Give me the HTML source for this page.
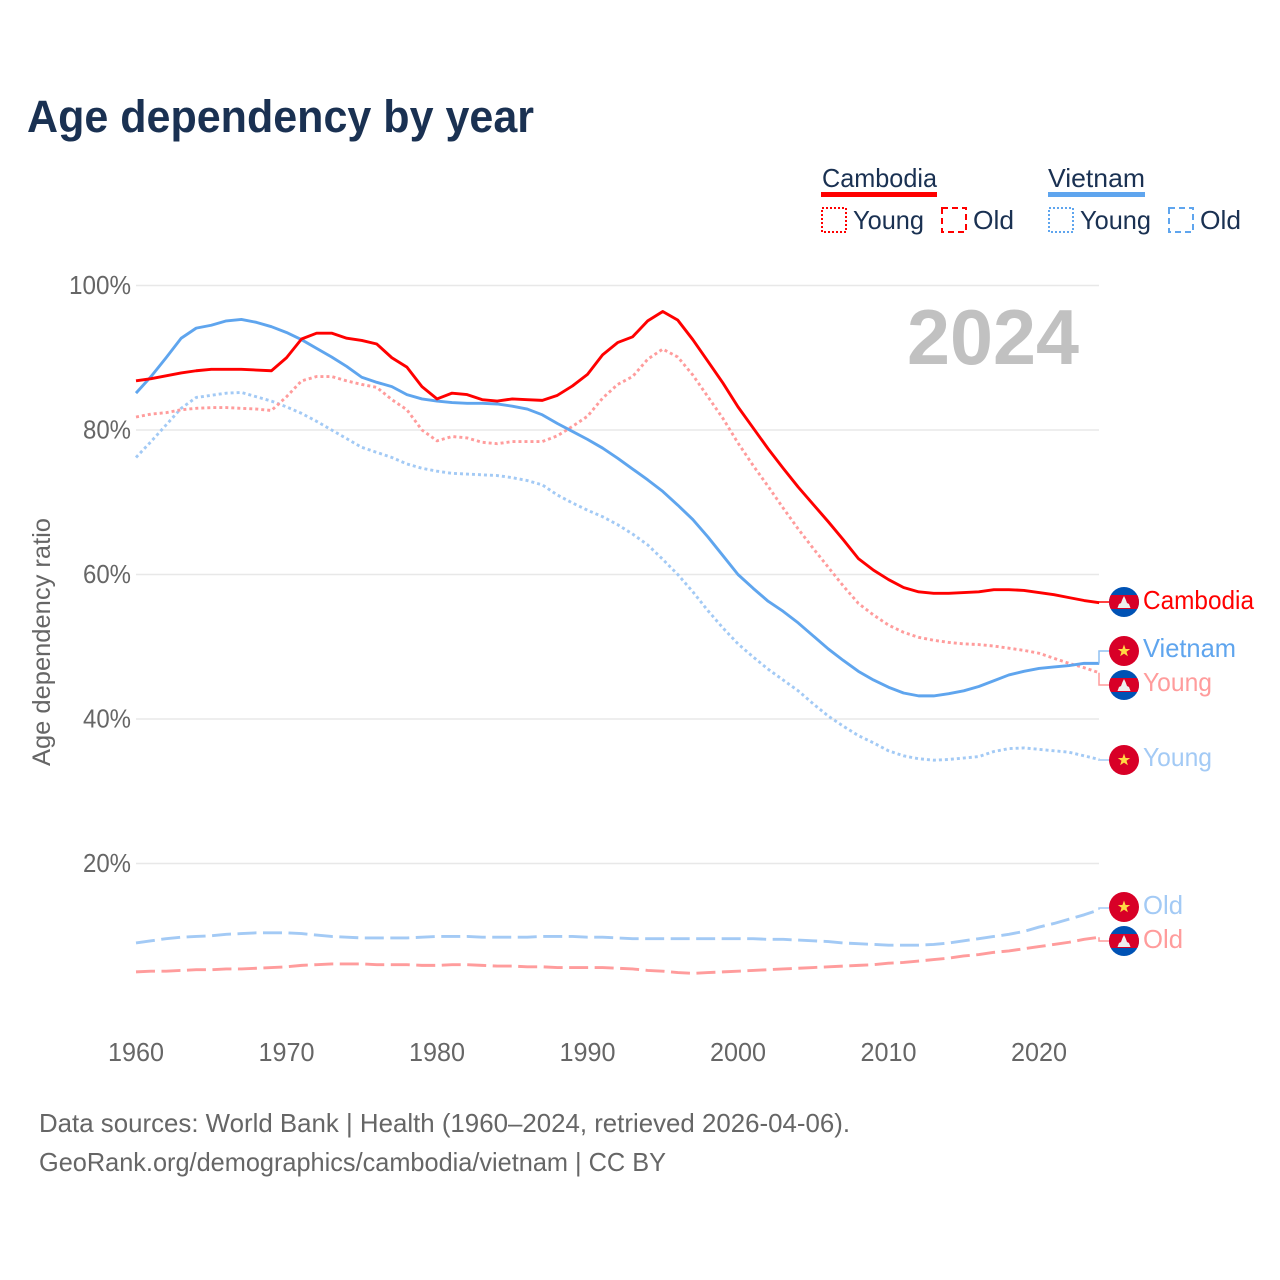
<!DOCTYPE html>
<html lang="en">
<head>
<meta charset="utf-8">
<title>Age dependency by year</title>
<style>
html,body{margin:0;padding:0;background:#fff;}
svg{display:block;font-family:"Liberation Sans",sans-serif;}
</style>
</head>
<body>
<svg id="chart" width="1280" height="1280" viewBox="0 0 1280 1280" xmlns="http://www.w3.org/2000/svg">
  <defs>
    <clipPath id="flag-clip"><circle cx="0" cy="0" r="15"/></clipPath>
    <g id="flag-kh">
      <g clip-path="url(#flag-clip)">
        <rect x="-15" y="-15" width="30" height="30" fill="#0052b4"/>
        <rect x="-15" y="-7" width="30" height="14" fill="#d80027"/>
        <polygon points="-6.5,6 -5,2 -3,1 -1.5,-3 0,-6 1.5,-3 3,1 5,2 6.5,6" fill="#eeeeee"/>
      </g>
    </g>
    <g id="flag-vn">
      <circle r="15" fill="#d80027"/>
      <polygon points="0,-6.5 1.6,-2 6.2,-2 2.5,0.8 3.9,5.3 0,2.6 -3.9,5.3 -2.5,0.8 -6.2,-2 -1.6,-2" fill="#ffda44"/>
    </g>
  </defs>

  <text x="27" y="132" font-size="45" font-weight="700" fill="#1a3152" textLength="507" lengthAdjust="spacingAndGlyphs">Age dependency by year</text>

  <g font-size="26" fill="#1a3152">
    <text x="822" y="187" textLength="115" lengthAdjust="spacingAndGlyphs">Cambodia</text>
    <rect x="821" y="192" width="116" height="5" fill="#ff0000"/>
    <rect x="822" y="208" width="24" height="24" fill="none" stroke="#ff0000" stroke-width="2" stroke-dasharray="2 2"/>
    <text x="853" y="229" textLength="71" lengthAdjust="spacingAndGlyphs">Young</text>
    <rect x="942" y="208" width="24" height="24" fill="none" stroke="#ff0000" stroke-width="2" stroke-dasharray="6 4"/>
    <text x="973" y="229" textLength="41" lengthAdjust="spacingAndGlyphs">Old</text>
    <text x="1048" y="187" textLength="97" lengthAdjust="spacingAndGlyphs">Vietnam</text>
    <rect x="1048" y="192" width="97" height="5" fill="#5fa5ee"/>
    <rect x="1049" y="208" width="24" height="24" fill="none" stroke="#5fa5ee" stroke-width="2" stroke-dasharray="2 2"/>
    <text x="1080" y="229" textLength="71" lengthAdjust="spacingAndGlyphs">Young</text>
    <rect x="1169" y="208" width="24" height="24" fill="none" stroke="#5fa5ee" stroke-width="2" stroke-dasharray="6 4"/>
    <text x="1200" y="229" textLength="41" lengthAdjust="spacingAndGlyphs">Old</text>
  </g>

  <g id="grid"></g>
  <g id="y-ticks"></g>
  <g id="x-ticks"></g>

  <text transform="translate(50,766) rotate(-90)" font-size="25" fill="#666666" textLength="248" lengthAdjust="spacingAndGlyphs">Age dependency ratio</text>

  <text x="907" y="364" font-size="78" font-weight="700" fill="#c1c1c1" textLength="172" lengthAdjust="spacingAndGlyphs">2024</text>

  <g id="series"></g>
  <g id="connectors"></g>

  <g font-size="26">
    <use href="#flag-kh" x="1124" y="602"/>
    <text x="1143" y="609" fill="#ff0000" textLength="111" lengthAdjust="spacingAndGlyphs">Cambodia</text>
    <use href="#flag-vn" x="1124" y="651"/>
    <use href="#flag-kh" x="1124" y="685"/>
    <text x="1143" y="657" fill="#5fa5ee" textLength="93" lengthAdjust="spacingAndGlyphs">Vietnam</text>
    <text x="1143" y="691" fill="#ff9c9c" textLength="69" lengthAdjust="spacingAndGlyphs">Young</text>
    <use href="#flag-vn" x="1124" y="760"/>
    <text x="1143" y="766" fill="#a3caf5" textLength="69" lengthAdjust="spacingAndGlyphs">Young</text>
    <use href="#flag-vn" x="1124" y="907"/>
    <text x="1143" y="914" fill="#a3caf5" textLength="40" lengthAdjust="spacingAndGlyphs">Old</text>
    <use href="#flag-kh" x="1124" y="941"/>
    <text x="1143" y="948" fill="#ff9c9c" textLength="40" lengthAdjust="spacingAndGlyphs">Old</text>
  </g>

  <g font-size="26" fill="#666666">
    <text x="39" y="1132" textLength="811" lengthAdjust="spacingAndGlyphs">Data sources: World Bank | Health (1960–2024, retrieved 2026-04-06).</text>
    <text x="39" y="1171" textLength="627" lengthAdjust="spacingAndGlyphs">GeoRank.org/demographics/cambodia/vietnam | CC BY</text>
  </g>
</svg>

<script>
const startYear = 1960;
const yTickValues = [20, 40, 60, 80, 100];
const yTickLabels = ["20%", "40%", "60%", "80%", "100%"];
const xTickValues = [1960, 1970, 1980, 1990, 2000, 2010, 2020];
const xTickLabels = ["1960", "1970", "1980", "1990", "2000", "2010", "2020"];

const cambodiaTotal = [86.8,87.1,87.5,87.9,88.2,88.4,88.4,88.4,88.3,88.2,90.0,92.6,93.4,93.4,92.7,92.4,91.9,90.0,88.7,86.0,84.3,85.1,84.9,84.2,84.0,84.3,84.2,84.1,84.8,86.1,87.7,90.4,92.1,92.9,95.1,96.4,95.2,92.5,89.5,86.5,83.2,80.3,77.4,74.7,72.1,69.7,67.3,64.8,62.2,60.6,59.3,58.2,57.6,57.4,57.4,57.5,57.6,57.9,57.9,57.8,57.5,57.2,56.8,56.4,56.1];
const vietnamTotal = [85.1,87.4,90.0,92.7,94.1,94.5,95.1,95.3,94.9,94.3,93.5,92.5,91.3,90.1,88.8,87.3,86.6,86.0,84.9,84.3,84.0,83.8,83.7,83.7,83.6,83.3,82.9,82.1,80.9,79.8,78.7,77.5,76.1,74.6,73.1,71.5,69.6,67.6,65.2,62.6,60.0,58.1,56.3,54.9,53.3,51.5,49.7,48.1,46.6,45.4,44.4,43.6,43.2,43.2,43.5,43.9,44.5,45.3,46.1,46.6,47.0,47.2,47.4,47.7,47.7];
const cambodiaYoung = [81.8,82.2,82.4,82.8,83.0,83.1,83.1,83.0,82.9,82.7,84.6,86.8,87.4,87.4,86.8,86.3,85.9,84.2,82.8,80.0,78.5,79.1,78.9,78.3,78.1,78.4,78.4,78.4,79.2,80.5,81.9,84.4,86.3,87.4,89.8,91.2,90.1,87.6,84.6,81.6,78.2,75.1,72.2,69.2,66.3,63.6,61.0,58.4,56.0,54.4,53.0,52.0,51.3,50.9,50.6,50.4,50.3,50.1,49.8,49.5,49.1,48.4,47.7,47.1,46.4];
const vietnamYoung = [76.2,78.4,80.7,83.0,84.5,84.8,85.1,85.2,84.6,84.0,83.2,82.3,81.2,80.0,78.8,77.6,76.9,76.2,75.3,74.7,74.3,74.0,73.9,73.8,73.7,73.4,73.0,72.4,71.0,69.9,68.9,68.0,66.9,65.6,64.1,62.1,60.0,57.6,55.0,52.6,50.4,48.6,46.9,45.4,43.9,42.1,40.4,39.0,37.7,36.7,35.6,34.9,34.5,34.3,34.4,34.6,34.8,35.5,35.9,36.0,35.8,35.6,35.4,34.9,34.4];
const vietnamOld = [9.0,9.3,9.6,9.8,9.9,10.0,10.2,10.3,10.4,10.4,10.4,10.3,10.1,9.9,9.8,9.7,9.7,9.7,9.7,9.8,9.9,9.9,9.9,9.8,9.8,9.8,9.8,9.9,9.9,9.9,9.8,9.8,9.7,9.6,9.6,9.6,9.6,9.6,9.6,9.6,9.6,9.6,9.5,9.5,9.4,9.3,9.2,9.0,8.9,8.8,8.7,8.7,8.7,8.8,9.0,9.3,9.6,9.9,10.2,10.6,11.2,11.7,12.3,12.9,13.6];
const cambodiaOld = [5.0,5.1,5.1,5.2,5.3,5.3,5.4,5.4,5.5,5.6,5.7,5.9,6.0,6.1,6.1,6.1,6.0,6.0,6.0,5.9,5.9,6.0,6.0,5.9,5.8,5.8,5.7,5.7,5.6,5.6,5.6,5.6,5.5,5.4,5.2,5.1,4.9,4.8,4.9,5.0,5.1,5.2,5.3,5.4,5.5,5.6,5.7,5.8,5.9,6.0,6.2,6.3,6.5,6.7,6.9,7.2,7.4,7.7,7.9,8.2,8.5,8.8,9.1,9.5,9.8];

const NS = "http://www.w3.org/2000/svg";
function xScale(year) { return 136 + (year - 1960) * 15.05; }
function yScale(v) { return 285.5 + (100 - v) * 7.225; }

const gridGroup = document.getElementById("grid");
const yTickGroup = document.getElementById("y-ticks");
const xTickGroup = document.getElementById("x-ticks");
const seriesGroup = document.getElementById("series");
const connectorGroup = document.getElementById("connectors");

yTickValues.forEach(function (v, i) {
  const line = document.createElementNS(NS, "line");
  
  
  line.setAttribute("x1", 136);
  line.setAttribute("x2", 1099);
  line.setAttribute("y1", yScale(v));
  line.setAttribute("y2", yScale(v));
  line.setAttribute("stroke", "#e8e8e8");
  line.setAttribute("stroke-width", "1.4");
  gridGroup.appendChild(line);

  const label = document.createElementNS(NS, "text");
  
  
  label.setAttribute("x", 131);
  label.setAttribute("y", yScale(v) + 8.5);
  label.setAttribute("text-anchor", "end");
  label.setAttribute("font-size", "26");
  label.setAttribute("fill", "#666666");
  label.setAttribute("textLength", yTickLabels[i].length === 4 ? 62 : 48);
  label.setAttribute("lengthAdjust", "spacingAndGlyphs");
  label.textContent = yTickLabels[i];
  yTickGroup.appendChild(label);
});

xTickValues.forEach(function (yr, i) {
  const label = document.createElementNS(NS, "text");
  
  
  label.setAttribute("x", xScale(yr));
  label.setAttribute("y", 1061);
  label.setAttribute("text-anchor", "middle");
  label.setAttribute("font-size", "26");
  label.setAttribute("fill", "#666666");
  label.setAttribute("textLength", 56);
  label.setAttribute("lengthAdjust", "spacingAndGlyphs");
  label.textContent = xTickLabels[i];
  xTickGroup.appendChild(label);
});

function linePath(values) {
  return values.map(function (v, i) {
    return (i ? "L" : "M") + xScale(startYear + i).toFixed(2) + " " + yScale(v).toFixed(2);
  }).join(" ");
}

function drawSeries(values, color, dash, name) {
  const p = document.createElementNS(NS, "path");
  
  
  p.setAttribute("d", linePath(values));
  p.setAttribute("fill", "none");
  p.setAttribute("stroke", color);
  p.setAttribute("stroke-width", "2.9");
  p.setAttribute("stroke-linejoin", "round");
  if (dash) p.setAttribute("stroke-dasharray", dash);
  seriesGroup.appendChild(p);
}

function drawConnector(values, labelY, color, name) {
  const endY = yScale(values[values.length - 1]);
  const c = document.createElementNS(NS, "polyline");
  
  
  c.setAttribute("points", "1099," + endY.toFixed(2) + " 1099," + labelY + " 1109," + labelY);
  c.setAttribute("fill", "none");
  c.setAttribute("stroke", color);
  c.setAttribute("stroke-width", "1.5");
  connectorGroup.appendChild(c);
}

drawSeries(cambodiaOld, "#ff9c9c", "19 6.5", "line-cambodia-old");
drawSeries(vietnamOld, "#a3caf5", "19 6.5", "line-vietnam-old");
drawSeries(vietnamYoung, "#a3caf5", "3 3", "line-vietnam-young");
drawSeries(cambodiaYoung, "#ff9c9c", "3 3", "line-cambodia-young");
drawSeries(vietnamTotal, "#5fa5ee", "", "line-vietnam-total");
drawSeries(cambodiaTotal, "#ff0000", "", "line-cambodia-total");

drawConnector(cambodiaTotal, 602, "#ff0000", "connector-cambodia-total");
drawConnector(vietnamTotal, 651, "#8fc0f2", "connector-vietnam-total");
drawConnector(cambodiaYoung, 685, "#ff9c9c", "connector-cambodia-young");
drawConnector(vietnamYoung, 760, "#a3caf5", "connector-vietnam-young");
drawConnector(vietnamOld, 908, "#a3caf5", "connector-vietnam-old");
drawConnector(cambodiaOld, 941, "#ff9c9c", "connector-cambodia-old");
</script>
</body>
</html>
